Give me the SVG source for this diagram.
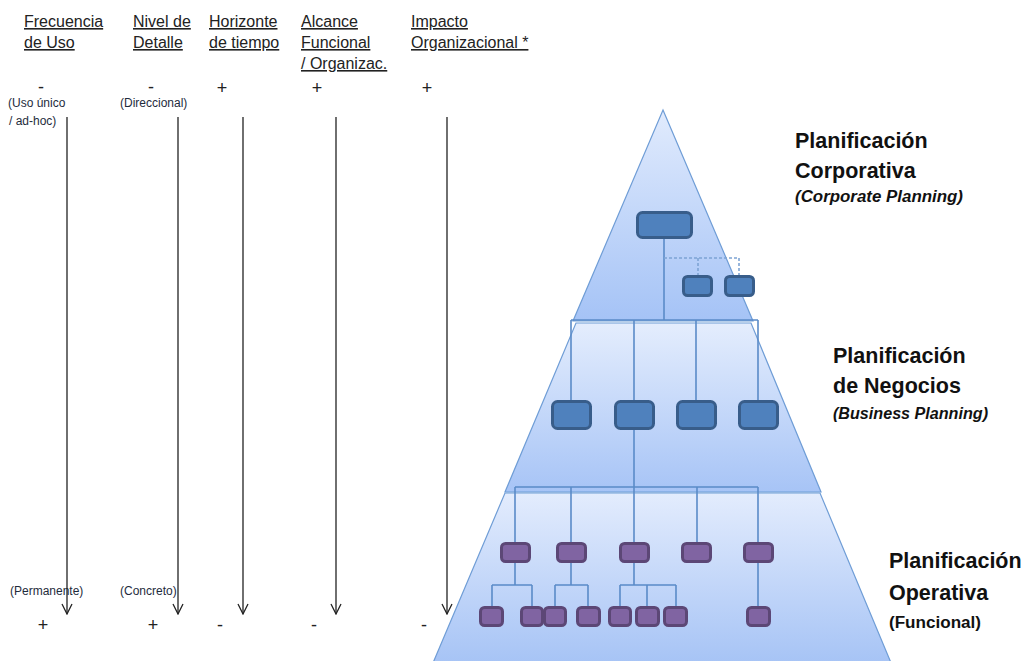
<svg xmlns="http://www.w3.org/2000/svg" width="1026" height="661" viewBox="0 0 1026 661">
  <defs>
    <style>
      .hdr { font-family: "Liberation Sans", Arial, sans-serif; font-size: 16px; fill: #222; text-decoration: underline; }
      .sign { font-family: "Liberation Sans", Arial, sans-serif; font-size: 18px; fill: #222; text-anchor: middle; }
      .small { font-family: "Liberation Sans", Arial, sans-serif; font-size: 12px; fill: #1e2b3c; }
      .title { font-family: "Liberation Sans", Arial, sans-serif; font-size: 21.5px; font-weight: bold; fill: #111; }
      .sub { font-family: "Liberation Sans", Arial, sans-serif; font-size: 16px; font-weight: bold; fill: #111; }
      .axis { stroke: #222; stroke-width: 1.3; fill: none; marker-end: url(#vhead); }
      .tier { stroke: #6f9dd6; stroke-width: 1.2; }
      .link { stroke: #5a8bc8; stroke-width: 1.6; fill: none; }
      .dash { stroke: #7ea4d4; stroke-width: 1.6; fill: none; stroke-dasharray: 3 2; }
      .blue { fill: #4f81bd; stroke: #385d8a; stroke-width: 3; }
      .purple { fill: #8064a2; stroke: #5c4776; stroke-width: 3; }
    </style>
    <marker id="vhead" viewBox="-1 -6 12 12" refX="10" refY="0" markerWidth="12" markerHeight="12" markerUnits="userSpaceOnUse" orient="auto">
      <path d="M0,-5 L10,0 L0,5" fill="none" stroke="#222" stroke-width="1.3"/>
    </marker>
    <linearGradient id="gTop" x1="0" y1="0" x2="0" y2="1">
      <stop offset="0" stop-color="#e1ebfd"/>
      <stop offset="1" stop-color="#a5c3f6"/>
    </linearGradient>
    <linearGradient id="gMid" x1="0" y1="0" x2="0" y2="1">
      <stop offset="0" stop-color="#e4edfd"/>
      <stop offset="1" stop-color="#a7c4f6"/>
    </linearGradient>
    <linearGradient id="gLow" x1="0" y1="0" x2="0" y2="1">
      <stop offset="0" stop-color="#e3ecfd"/>
      <stop offset="1" stop-color="#a4c2f5"/>
    </linearGradient>
  </defs>

  <rect width="1026" height="661" fill="#ffffff"/>

  <!-- column headings -->
  <g id="headings">
    <text class="hdr" x="24" y="27">Frecuencia</text>
    <text class="hdr" x="24" y="48">de Uso</text>
    <text class="hdr" x="133" y="27">Nivel de</text>
    <text class="hdr" x="133" y="48">Detalle</text>
    <text class="hdr" x="209" y="27">Horizonte</text>
    <text class="hdr" x="209" y="48">de tiempo</text>
    <text class="hdr" x="301" y="27">Alcance</text>
    <text class="hdr" x="301" y="48">Funcional</text>
    <text class="hdr" x="301" y="69">/ Organizac.</text>
    <text class="hdr" x="411" y="27">Impacto</text>
    <text class="hdr" x="411" y="48">Organizacional *</text>
  </g>

  <!-- scale ends -->
  <g id="scale-labels">
    <text class="sign" x="41" y="93">-</text>
    <text class="sign" x="151" y="93">-</text>
    <text class="sign" x="222" y="94">+</text>
    <text class="sign" x="317" y="94">+</text>
    <text class="sign" x="427" y="94">+</text>
    <text class="small" x="8" y="107">(Uso único</text>
    <text class="small" x="9" y="125">/ ad-hoc)</text>
    <text class="small" x="120" y="107">(Direccional)</text>
    <text class="small" x="10" y="595">(Permanente)</text>
    <text class="small" x="120" y="595">(Concreto)</text>
    <text class="sign" x="43" y="631">+</text>
    <text class="sign" x="153" y="631">+</text>
    <text class="sign" x="220" y="631">-</text>
    <text class="sign" x="314" y="631">-</text>
    <text class="sign" x="424" y="631">-</text>
  </g>

  <!-- pyramid tiers -->
  <g id="pyramid">
    <polygon class="tier" fill="url(#gTop)" points="663,110 753,321 573,321"/>
    <polygon class="tier" fill="url(#gMid)" points="576,323 751,323 821,492 505,492"/>
    <polygon class="tier" fill="url(#gLow)" points="505,493 820,493 894,670 430,670"/>
  </g>

  <!-- connectors -->
  <g id="connectors">
    <!-- corporate level -->
    <path class="link" d="M664,239 V320"/>
    <path class="dash" d="M664,258 H739 V275 M698,258 V275"/>
    <path class="link" d="M571,320 H758 M571,320 V400 M634,320 V400 M696,320 V400 M758,320 V400"/>
    <!-- business level -->
    <path class="link" d="M634,430 V487"/>
    <path class="link" d="M515,487 H758 M515,487 V542 M571,487 V542 M634,487 V542 M697,487 V542 M758,487 V542"/>
    <!-- operational level -->
    <path class="link" d="M515,563 V585 M492,585 H532 M492,585 V606 M532,585 V606"/>
    <path class="link" d="M571,563 V585 M555,585 H588 M555,585 V606 M588,585 V606"/>
    <path class="link" d="M634,563 V585 M620,585 H676 M620,585 V606 M647,585 V606 M676,585 V606"/>
    <path class="link" d="M758,563 V606"/>
  </g>

  <!-- corporate units -->
  <g id="corp-main"><rect class="blue" x="637.5" y="212.5" width="54" height="25" rx="5"/></g>
  <g id="corp-staff-1"><rect class="blue" x="683.5" y="276.5" width="28" height="19" rx="4"/></g>
  <g id="corp-staff-2"><rect class="blue" x="725.5" y="276.5" width="28" height="19" rx="4"/></g>

  <!-- business units -->
  <g id="bu-1"><rect class="blue" x="552.5" y="401.5" width="38" height="27" rx="5"/></g>
  <g id="bu-2"><rect class="blue" x="615.5" y="401.5" width="38" height="27" rx="5"/></g>
  <g id="bu-3"><rect class="blue" x="677.5" y="401.5" width="38" height="27" rx="5"/></g>
  <g id="bu-4"><rect class="blue" x="739.5" y="401.5" width="38" height="27" rx="5"/></g>

  <!-- functional units -->
  <g id="fn-1"><rect class="purple" x="501.5" y="543.5" width="28" height="18" rx="4"/></g>
  <g id="fn-2"><rect class="purple" x="557.5" y="543.5" width="28" height="18" rx="4"/></g>
  <g id="fn-3"><rect class="purple" x="620.5" y="543.5" width="28" height="18" rx="4"/></g>
  <g id="fn-4"><rect class="purple" x="682.5" y="543.5" width="28" height="18" rx="4"/></g>
  <g id="fn-5"><rect class="purple" x="744.5" y="543.5" width="28" height="18" rx="4"/></g>

  <!-- functional sub-units -->
  <g id="op-1"><rect class="purple" x="480.5" y="607.5" width="22" height="18" rx="4"/></g>
  <g id="op-2"><rect class="purple" x="521.5" y="607.5" width="21" height="18" rx="4"/></g>
  <g id="op-3"><rect class="purple" x="544.5" y="607.5" width="21" height="18" rx="4"/></g>
  <g id="op-4"><rect class="purple" x="577.5" y="607.5" width="22" height="18" rx="4"/></g>
  <g id="op-5"><rect class="purple" x="609.5" y="607.5" width="21" height="18" rx="4"/></g>
  <g id="op-6"><rect class="purple" x="636.5" y="607.5" width="22" height="18" rx="4"/></g>
  <g id="op-7"><rect class="purple" x="664.5" y="607.5" width="22" height="18" rx="4"/></g>
  <g id="op-8"><rect class="purple" x="747.5" y="607.5" width="22" height="18" rx="4"/></g>

  <!-- vertical scales -->
  <g id="axes">
    <line class="axis" x1="67" y1="117" x2="67" y2="614"/>
    <line class="axis" x1="178" y1="117" x2="178" y2="614"/>
    <line class="axis" x1="243" y1="117" x2="243" y2="614"/>
    <line class="axis" x1="336" y1="117" x2="336" y2="614"/>
    <line class="axis" x1="447" y1="117" x2="447" y2="614"/>
  </g>

  <!-- level titles -->
  <g id="level-corporate">
    <text class="title" x="795" y="148">Planificación</text>
    <text class="title" x="795" y="178">Corporativa</text>
    <text class="sub" x="795" y="202" font-style="italic" textLength="168" lengthAdjust="spacingAndGlyphs">(Corporate Planning)</text>
  </g>
  <g id="level-business">
    <text class="title" x="833" y="363">Planificación</text>
    <text class="title" x="833" y="393">de Negocios</text>
    <text class="sub" x="833" y="419" font-style="italic" textLength="155" lengthAdjust="spacingAndGlyphs">(Business Planning)</text>
  </g>
  <g id="level-operational">
    <text class="title" x="889" y="568">Planificación</text>
    <text class="title" x="889" y="600">Operativa</text>
    <text class="sub" x="889" y="628" textLength="92" lengthAdjust="spacingAndGlyphs">(Funcional)</text>
  </g>
</svg>
